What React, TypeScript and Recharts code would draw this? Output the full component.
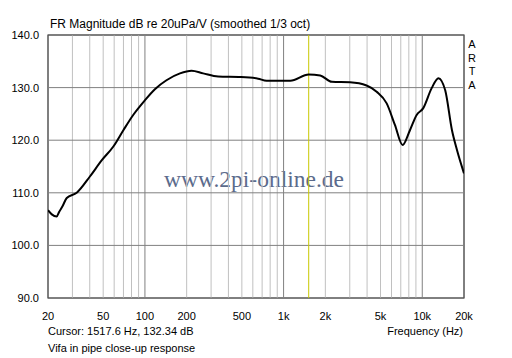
import { LineChart, Line, XAxis, YAxis, ReferenceLine } from 'recharts';

const freqs = [
  20, 21.3, 23.1, 24.1, 25.5, 27.3, 32.2, 40.1, 48.9, 59.2, 69.9, 82.3, 100, 118, 143, 179, 217, 263,
  337, 493, 655, 754, 1118, 1517, 1837, 2230, 3014, 3967, 4690, 5540, 6350, 7210, 8150, 9110, 10170,
  11690, 13080, 14640, 16380, 17820, 20000,
];
const levels = [
  106.7, 105.9, 105.5, 106.4, 107.5, 109.0, 110.0, 113.1, 116.2, 118.8, 121.9, 124.8, 127.6, 129.7,
  131.4, 132.7, 133.2, 132.7, 132.1, 132.0, 131.7, 131.3, 131.3, 132.5, 132.3, 131.1, 131.0, 130.4,
  129.2, 127.0, 122.9, 119.1, 121.9, 124.8, 126.1, 129.9, 131.8, 129.5, 121.9, 118.1, 113.7,
];

const xTicks = [20, 50, 100, 200, 500, 1000, 2000, 5000, 10000, 20000];
const xTickLabels = ['20', '50', '100', '200', '500', '1k', '2k', '5k', '10k', '20k'];
const yTicks = [90, 100, 110, 120, 130, 140];
const minorGrid = [
  30, 40, 50, 60, 70, 80, 90, 200, 300, 400, 500, 600, 700, 800, 900, 2000, 3000, 4000, 5000, 6000,
  7000, 8000, 9000,
];
const majorGrid = [100, 1000, 10000];
const cursorFreq = 1517.6;

const data = freqs.map((f, i) => ({ f, db: levels[i] }));

const font = '"Liberation Sans", Arial, sans-serif';

export default function App() {
  return (
    <div style={{ position: 'absolute', left: 0, top: 0, width: 512, height: 358, background: '#fff' }}>
      <LineChart width={512} height={358} data={data} margin={{ top: 35, right: 48, left: 0, bottom: 0 }}>
        {minorGrid.map((f) => (
          <ReferenceLine key={'m' + f} x={f} stroke="#c0c0c0" strokeWidth={1} />
        ))}
        {yTicks.map((v) => (
          <ReferenceLine key={'h' + v} y={v} stroke="#808080" strokeWidth={1} />
        ))}
        {majorGrid.map((f) => (
          <ReferenceLine key={'M' + f} x={f} stroke="#808080" strokeWidth={1} />
        ))}
        <ReferenceLine x={cursorFreq} stroke="#c8c800" strokeWidth={1} />
        <XAxis
          dataKey="f"
          type="number"
          scale="log"
          domain={[20, 20000]}
          ticks={xTicks}
          tickFormatter={(v) => xTickLabels[xTicks.indexOf(v)] ?? String(v)}
          height={60}
          axisLine={false}
          tickLine={false}
          tickMargin={8}
          allowDataOverflow
          tick={{ fill: '#000', fontSize: 11, fontFamily: font }}
        />
        <YAxis
          type="number"
          domain={[90, 140]}
          ticks={yTicks}
          width={48}
          axisLine={false}
          tickLine={false}
          tickMargin={3}
          allowDataOverflow
          tickFormatter={(v) => v.toFixed(1)}
          tick={{ fill: '#000', fontSize: 11, fontFamily: font }}
        />
        <Line
          dataKey="db"
          type="monotone"
          stroke="#000"
          strokeWidth={2}
          dot={false}
          isAnimationActive={false}
        />
        <rect x={48} y={35} width={416} height={263} fill="none" stroke="#000" strokeWidth={1} />
        <text x={50} y={28} fontSize={12} fontFamily={font} fill="#000">
          FR Magnitude dB re 20uPa/V (smoothed 1/3 oct)
        </text>
        {['A', 'R', 'T', 'A'].map((c, i) => (
          <text key={i} x={472} y={48 + i * 13.5} fontSize={11} fontFamily={font} fill="#000" textAnchor="middle">
            {c}
          </text>
        ))}
        <text x={48} y={335} fontSize={11} fontFamily={font} fill="#000">
          Cursor: 1517.6 Hz, 132.34 dB
        </text>
        <text x={463} y={335} fontSize={11} fontFamily={font} fill="#000" textAnchor="end">
          Frequency (Hz)
        </text>
        <text x={48} y={352} fontSize={11} fontFamily={font} fill="#000">
          Vifa in pipe close-up response
        </text>
        <text x={254} y={187} fontSize={23.5} fontFamily='"Liberation Serif", "Times New Roman", serif' fill="#5b6b8c" textAnchor="middle">
          www.2pi-online.de
        </text>
      </LineChart>
    </div>
  );
}
